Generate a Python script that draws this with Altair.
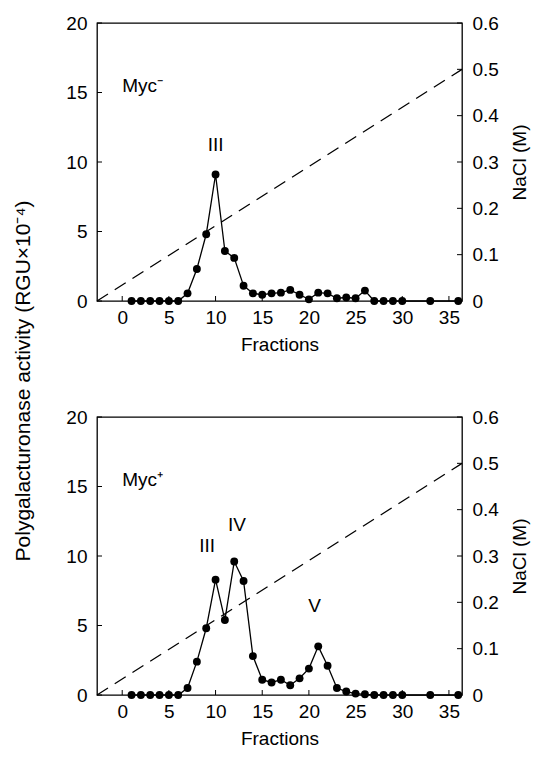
import altair as alt
import pandas as pd

# ---------------- data ----------------
fractions = list(range(1, 31)) + [33, 36]
myc_minus = [0, 0, 0, 0, 0, 0, 0.55, 2.3, 4.8, 9.1,
             3.6, 3.1, 1.1, 0.55, 0.45, 0.55, 0.6, 0.8, 0.45, 0.12,
             0.6, 0.55, 0.2, 0.25, 0.2, 0.75, 0, 0, 0, 0,
             0, 0]
myc_plus = [0, 0, 0, 0, 0, 0, 0.5, 2.4, 4.8, 8.3,
            5.4, 9.6, 8.2, 2.8, 1.1, 0.9, 1.1, 0.7, 1.2, 1.9,
            3.5, 2.1, 0.5, 0.25, 0.1, 0.05, 0, 0, 0, 0,
            0, 0]
nacl_fraction = [-2.7, 36.4]
nacl_molar = [0.0, 0.5]

x_ticks = [0, 5, 10, 15, 20, 25, 30, 35]
left_ticks = [0, 5, 10, 15, 20]
right_ticks = [0, 0.1, 0.2, 0.3, 0.4, 0.5, 0.6]

top_peaks = {"fraction": [10], "activity": [11.2], "label": ["III"]}
bottom_peaks = {"fraction": [9.1, 12.3, 20.6], "activity": [10.7, 12.2, 6.4],
                "label": ["III", "IV", "V"]}
top_tag = "Myc\u207b"
bottom_tag = "Myc\u207a"
y_title = "Polygalacturonase activity (RGU\u00d710\u207b\u2074)"

W, H = 365, 278
XDOM = [-2.7, 36.4]
FONT = "Liberation Sans"
FS = 19


def panel(values, peaks, tag):
    df = pd.DataFrame({"fraction": fractions, "activity": values})
    xenc = alt.X("fraction:Q",
                 scale=alt.Scale(domain=XDOM, nice=False, zero=False),
                 axis=alt.Axis(values=x_ticks, title="Fractions", grid=False,
                               ticks=False, domain=False, labelPadding=7,
                               titlePadding=8))
    yenc = alt.Y("activity:Q",
                 scale=alt.Scale(domain=[0, 20], nice=False),
                 axis=alt.Axis(values=left_ticks, title=None, grid=False,
                               ticks=False, domain=False, labelPadding=10))
    line = alt.Chart(df).mark_line(color="black", strokeWidth=1.3).encode(x=xenc, y=yenc)
    pts = alt.Chart(df).mark_circle(color="black", size=62, opacity=1).encode(
        x="fraction:Q", y="activity:Q")
    xt = alt.Chart(pd.DataFrame({"fraction": x_ticks})).mark_rule(
        color="black", strokeWidth=1).encode(
        x="fraction:Q", y=alt.value(H), y2=alt.value(H - 5))
    lt = alt.Chart(pd.DataFrame({"activity": left_ticks})).mark_rule(
        color="black", strokeWidth=1).encode(
        y="activity:Q", x=alt.value(0), x2=alt.value(5))
    pk = alt.Chart(pd.DataFrame(peaks)).mark_text(
        font=FONT, fontSize=FS, color="black", baseline="middle", align="center").encode(
        x="fraction:Q", y="activity:Q", text="label:N")
    tg = alt.Chart(pd.DataFrame({"fraction": [0.0], "activity": [15.5], "t": [tag]})).mark_text(
        font=FONT, fontSize=FS, color="black", baseline="middle", align="left").encode(
        x="fraction:Q", y="activity:Q", text="t:N")
    left = alt.layer(line, pts, xt, lt, pk, tg)

    ndf = pd.DataFrame({"fraction": nacl_fraction, "nacl": nacl_molar})
    yr = alt.Y("nacl:Q", scale=alt.Scale(domain=[0, 0.6], nice=False),
               axis=alt.Axis(orient="right", values=right_ticks, format="~g",
                             title="NaCl (M)", titleAngle=270, titleBaseline="top",
                             grid=False, ticks=False, domain=False,
                             labelPadding=10, titlePadding=12))
    dash = alt.Chart(ndf).mark_line(color="black", strokeWidth=1.3,
                                     strokeDash=[13, 8]).encode(
        x="fraction:Q", y=yr)
    rt = alt.Chart(pd.DataFrame({"nacl": right_ticks})).mark_rule(
        color="black", strokeWidth=1).encode(
        y="nacl:Q", x=alt.value(W), x2=alt.value(W - 5))
    right = alt.layer(dash, rt)

    return alt.layer(left, right).resolve_scale(y="independent").properties(
        width=W, height=H)


top = panel(myc_minus, top_peaks, top_tag)
bottom = panel(myc_plus, bottom_peaks, bottom_tag)

chart = alt.vconcat(top, bottom, spacing=52).properties(
    background="white",
    title=alt.TitleParams(text=y_title, orient="left", anchor="middle",
                          font=FONT, fontSize=21, fontWeight="normal",
                          color="black", offset=31)
).configure_view(
    stroke="black", strokeWidth=1.3
).configure_axis(
    labelFont=FONT, labelFontSize=FS, labelColor="black",
    titleFont=FONT, titleFontSize=FS, titleColor="black", titleFontWeight="normal"
)

chart.save("out.html", embed_options={"renderer": "svg", "actions": False})
